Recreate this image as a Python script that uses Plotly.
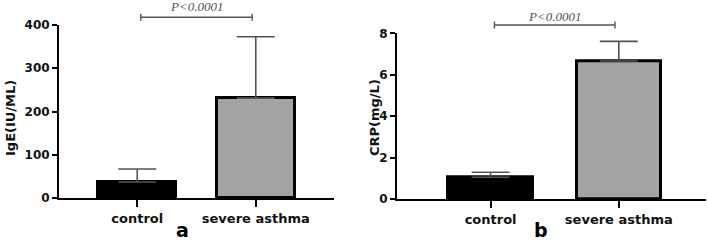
import plotly.graph_objects as go

categories = ["control", "severe asthma"]
ige_mean = [37, 231]
ige_sd = [30, 142]
crp_mean = [1.05, 6.66]
crp_sd = [0.24, 0.95]
ige_ticks = [0, 100, 200, 300, 400]
crp_ticks = [0, 2, 4, 6, 8]
p_text = "P<0.0001"

W, H = 708, 243
bar_colors = ["#000000", "#a3a3a3"]
tick_font = dict(family="DejaVu Sans", size=12, color="#111", weight="bold")
cat_font = dict(family="DejaVu Sans", size=13, color="#111", weight="bold")

fig = go.Figure()
for i, (m, s, xa, ya, cw) in enumerate([
    (ige_mean, ige_sd, "x", "y", 19),
    (crp_mean, crp_sd, "x2", "y2", 19),
]):
    fig.add_trace(go.Bar(
        x=categories, y=m, xaxis=xa, yaxis=ya, width=0.66,
        marker=dict(color=bar_colors, line=dict(color="#000", width=3)),
        error_y=dict(type="data", array=s, arrayminus=[0] * len(s), symmetric=False,
                     color="#555", thickness=1.6, width=cw),
        showlegend=False, hoverinfo="skip",
    ))

def px_x(p):
    return p / W

def px_y(p):
    return 1 - p / H

ax_common = dict(showgrid=False, zeroline=False, showline=True, linecolor="#000",
                 linewidth=2, ticks="outside", tickwidth=2, tickcolor="#000",
                 automargin=False)

fig.update_layout(
    template="none",
    width=W, height=H, margin=dict(l=0, r=0, t=0, b=0, autoexpand=False),
    paper_bgcolor="white", plot_bgcolor="white", bargap=0,
    xaxis=dict(domain=[px_x(59), px_x(334)], range=[-0.66, 1.66], anchor="y",
               ticklen=7, tickfont=cat_font, **ax_common),
    yaxis=dict(domain=[px_y(198), px_y(25)], range=[0, 400], anchor="x",
               tickvals=ige_ticks, ticklen=5, tickfont=tick_font, **ax_common),
    xaxis2=dict(domain=[px_x(397), px_x(706)], range=[-0.73, 1.68], anchor="y2",
                ticklen=7, tickfont=cat_font, **ax_common),
    yaxis2=dict(domain=[px_y(199), px_y(33.3)], range=[0, 8], anchor="x2",
                tickvals=crp_ticks, ticklen=5, tickfont=tick_font, **ax_common),
)

# significance brackets
for xr, ybr, ytxt in [("x", 17.3, 6), ("x2", 25, 16)]:
    yl = px_y(ybr)
    fig.add_shape(type="line", xref=xr, yref="paper", x0=0.03, x1=0.97, y0=yl, y1=yl,
                  line=dict(color="#555", width=1.4))
    for xe in (0.03, 0.97):
        fig.add_shape(type="line", xref=xr, yref="paper", x0=xe, x1=xe,
                      y0=px_y(ybr - 3.5), y1=px_y(ybr + 3.5),
                      line=dict(color="#555", width=1.4))
    fig.add_annotation(x=0.5, xref=xr, y=px_y(ytxt), yref="paper", text=p_text,
                       showarrow=False, yanchor="middle",
                       font=dict(family="Liberation Serif", size=13, color="#555", style="italic"))

# axis titles
fig.add_annotation(x=px_x(10), y=px_y(118), xref="paper", yref="paper", text="IgE(IU/ML)",
                   textangle=-90, showarrow=False, xanchor="center", yanchor="middle",
                   font=dict(family="DejaVu Sans", size=13, color="#111", weight="bold"))
fig.add_annotation(x=px_x(374), y=px_y(118), xref="paper", yref="paper", text="CRP(mg/L)",
                   textangle=-90, showarrow=False, xanchor="center", yanchor="middle",
                   font=dict(family="DejaVu Sans", size=13, color="#111", weight="bold"))

# panel letters
fig.add_annotation(x=px_x(182), y=0, xref="paper", yref="paper", text="a",
                   showarrow=False, xanchor="center", yanchor="bottom",
                   font=dict(family="DejaVu Sans", size=19, color="#000", weight="bold"))
fig.add_annotation(x=px_x(541), y=0, xref="paper", yref="paper", text="b",
                   showarrow=False, xanchor="center", yanchor="bottom",
                   font=dict(family="DejaVu Sans", size=19, color="#000", weight="bold"))

fig.write_html("out.html", config={"displayModeBar": False},
               post_script="document.body.style.margin='0px';")
